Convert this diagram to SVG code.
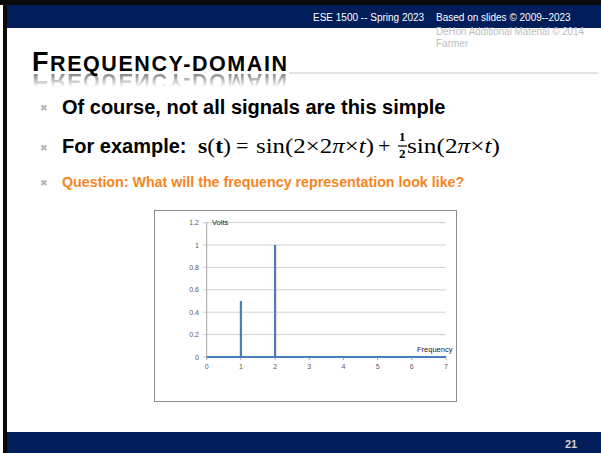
<svg xmlns="http://www.w3.org/2000/svg" width="601" height="453" viewBox="0 0 601 453">
  <defs>
    <style>
      .hdr { font-family: "Liberation Sans", Arial, sans-serif; font-size: 10px; }
      .title { font-family: "Liberation Sans", Arial, sans-serif; font-weight: bold; fill: #000; }
      .bul { font-family: "Liberation Sans", Arial, sans-serif; font-weight: bold; font-size: 20px; fill: #000; }
      .q { font-family: "Liberation Sans", Arial, sans-serif; font-weight: bold; font-size: 14.25px; fill: #f5861f; }
      .mk { font-family: "DejaVu Sans", sans-serif; font-size: 9px; fill: #b4b4b4; }
      .math { font-family: "Liberation Serif", "DejaVu Serif", serif; font-size: 22px; fill: #000; }
      .tick { font-family: "Liberation Sans", Arial, sans-serif; font-size: 7px; fill: #595959; }
      .axlab { font-family: "Liberation Sans", Arial, sans-serif; font-size: 7.5px; fill: #262626; }
      .grid { stroke: #d0d0d0; stroke-width: 1; }
      .spike { stroke: #4a7ebb; stroke-width: 2.2; fill: none; }
    </style>
    <linearGradient id="fade" x1="0" y1="0" x2="0" y2="1">
      <stop offset="0" stop-color="#fff" stop-opacity="0.55"/>
      <stop offset="1" stop-color="#fff" stop-opacity="0"/>
    </linearGradient>
    <mask id="reflMask" maskUnits="userSpaceOnUse" x="0" y="72" width="601" height="20">
      <rect x="0" y="72" width="601" height="15" fill="url(#fade)"/>
    </mask>
  </defs>

  <!-- page background and frame -->
  <rect x="0" y="0" width="601" height="453" fill="#ffffff"/>
  <rect x="0" y="0" width="601" height="5" fill="#0a0a0a"/>
  <rect x="3" y="0" width="4" height="453" fill="#0a0a0a"/>
  <rect x="7" y="5" width="594" height="23" fill="#011e5b"/>
  <rect x="7" y="432" width="594" height="21" fill="#011e5b"/>

  <!-- header -->
  <g id="header">
    <text class="hdr" x="313" y="21" fill="#ffffff">ESE 1500 -- Spring 2023</text>
    <text class="hdr" x="436" y="21" fill="#ffffff">Based on slides © 2009--2023</text>
    <text class="hdr" x="436" y="35" fill="#bdbdbd" textLength="148" lengthAdjust="spacingAndGlyphs">DeHon Additional Material © 2014</text>
    <text class="hdr" x="436" y="47" fill="#bdbdbd">Farmer</text>
  </g>

  <!-- slide title with reflection -->
  <g id="title">
    <line x1="289" y1="73" x2="598" y2="73" stroke="#c8c8c8" stroke-width="1"/>
    <text class="title" x="32" y="71" textLength="255" lengthAdjust="spacing"><tspan font-size="27">F</tspan><tspan font-size="21.5">REQUENCY-DOMAIN</tspan></text>
    <g mask="url(#reflMask)">
      <text class="title" x="32" y="71" textLength="255" lengthAdjust="spacing" transform="translate(0,145) scale(1,-1)"><tspan font-size="27">F</tspan><tspan font-size="21.5">REQUENCY-DOMAIN</tspan></text>
    </g>
  </g>

  <!-- bullets -->
  <g id="bullets">
    <text class="mk" x="40" y="111">✖</text>
    <text class="bul" x="62" y="114">Of course, not all signals are this simple</text>
    <text class="mk" x="40" y="151">✖</text>
    <text class="bul" x="62" y="153" font-size="19.5">For example:</text>
    <text class="mk" x="40" y="186">✖</text>
    <text class="q" x="62" y="187">Question: What will the frequency representation look like?</text>
  </g>

  <!-- formula -->
  <g id="formula" class="math">
    <text x="198" y="153" textLength="33" lengthAdjust="spacingAndGlyphs"><tspan font-weight="bold">s</tspan>(<tspan font-weight="bold">t</tspan>)</text>
    <text x="236" y="153">=</text>
    <text x="256" y="153" textLength="118" lengthAdjust="spacingAndGlyphs">sin(2×2<tspan font-style="italic">π</tspan>×<tspan font-style="italic">t</tspan>)</text>
    <text x="378" y="153">+</text>
    <text x="399" y="141" font-size="13" font-weight="bold">1</text>
    <line x1="398" y1="146" x2="407" y2="146" stroke="#000" stroke-width="1.2"/>
    <text x="399" y="158" font-size="13" font-weight="bold">2</text>
    <text x="407" y="153" textLength="93" lengthAdjust="spacingAndGlyphs">sin(2<tspan font-style="italic">π</tspan>×<tspan font-style="italic">t</tspan>)</text>
  </g>

  <!-- chart -->
  <g id="chart">
    <rect x="154.5" y="210.5" width="302" height="191" fill="#ffffff" stroke="#8c8c8c" stroke-width="1"/>
    <g id="gridlines">
      <line class="grid" x1="203" y1="222.6" x2="446" y2="222.6"/>
      <line class="grid" x1="203" y1="245" x2="446" y2="245"/>
      <line class="grid" x1="203" y1="267.4" x2="446" y2="267.4"/>
      <line class="grid" x1="203" y1="289.8" x2="446" y2="289.8"/>
      <line class="grid" x1="203" y1="312.2" x2="446" y2="312.2"/>
      <line class="grid" x1="203" y1="334.6" x2="446" y2="334.6"/>
      <line class="grid" x1="203" y1="357" x2="446" y2="357"/>
      <line x1="206.7" y1="222.6" x2="206.7" y2="357" stroke="#a6a6a6" stroke-width="1"/>
    </g>
    <g id="xticks" stroke="#a6a6a6" stroke-width="1">
      <line x1="206.7" y1="357" x2="206.7" y2="360"/>
      <line x1="240.9" y1="357" x2="240.9" y2="360"/>
      <line x1="275.1" y1="357" x2="275.1" y2="360"/>
      <line x1="309.3" y1="357" x2="309.3" y2="360"/>
      <line x1="343.5" y1="357" x2="343.5" y2="360"/>
      <line x1="377.6" y1="357" x2="377.6" y2="360"/>
      <line x1="411.8" y1="357" x2="411.8" y2="360"/>
      <line x1="446" y1="357" x2="446" y2="360"/>
    </g>
    <g id="series">
      <path class="spike" d="M206.7 357 H446 M240.9 357 V301 M275.1 357 V245"/>
    </g>
    <g id="ylabels" class="tick" text-anchor="end">
      <text x="199" y="225">1.2</text>
      <text x="199" y="247.5">1</text>
      <text x="199" y="270">0.8</text>
      <text x="199" y="292.3">0.6</text>
      <text x="199" y="314.7">0.4</text>
      <text x="199" y="337.1">0.2</text>
      <text x="199" y="359.5">0</text>
    </g>
    <g id="xlabels" class="tick" text-anchor="middle">
      <text x="206.7" y="369">0</text>
      <text x="240.9" y="369">1</text>
      <text x="275.1" y="369">2</text>
      <text x="309.3" y="369">3</text>
      <text x="343.5" y="369">4</text>
      <text x="377.6" y="369">5</text>
      <text x="411.8" y="369">6</text>
      <text x="446" y="369">7</text>
    </g>
    <text class="axlab" x="212" y="225">Volts</text>
    <text class="axlab" x="417" y="352">Frequency</text>
  </g>

  <!-- footer -->
  <g id="footer">
    <text x="565" y="448" font-family="Liberation Sans, Arial, sans-serif" font-weight="bold" font-size="11" fill="#d0d0d0">21</text>
  </g>
</svg>
